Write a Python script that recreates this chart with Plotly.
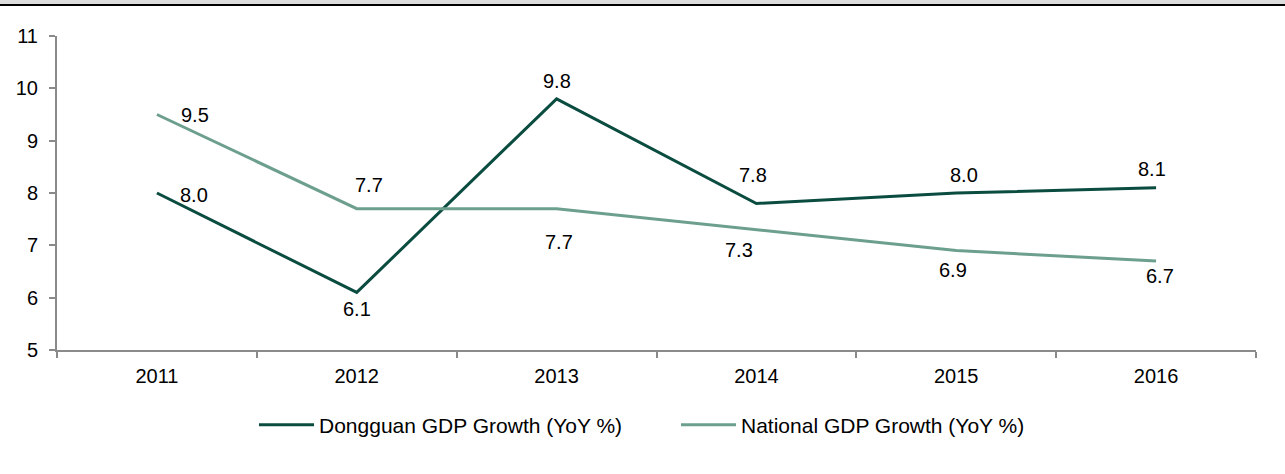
import plotly.graph_objects as go

years = ["2011", "2012", "2013", "2014", "2015", "2016"]
dongguan = [8.0, 6.1, 9.8, 7.8, 8.0, 8.1]
national = [9.5, 7.7, 7.7, 7.3, 6.9, 6.7]

# pixel offsets of each value label from its point
dongguan_dx = [37, 0, 0, -3, 8, -4]
dongguan_dy = [-2, -17, 18, 28, 18, 19]
national_dx = [38, 12, 2, -17, -3, 4]
national_dy = [0, 24, -33, -20, -19, -15]

DARK = "#0b4c40"
LIGHT = "#6d9f8e"
AXIS = "#8a8a8a"
FONT = "Liberation Sans, Arial, sans-serif"

fig = go.Figure()
fig.add_trace(go.Scatter(x=years, y=dongguan, mode="lines", name="Dongguan GDP Growth (YoY %)",
                         line=dict(color=DARK, width=3)))
fig.add_trace(go.Scatter(x=years, y=national, mode="lines", name="National GDP Growth (YoY %)",
                         line=dict(color=LIGHT, width=3)))

# value labels, placed at each category's index on the category axis
annotations = []
for vals, dxs, dys in ((dongguan, dongguan_dx, dongguan_dy), (national, national_dx, national_dy)):
    for i, (v, dx, dy) in enumerate(zip(vals, dxs, dys)):
        annotations.append(dict(x=i, y=v, xref="x", yref="y", text=f"{v:.1f}", showarrow=False,
                                xshift=dx, yshift=dy, font=dict(size=20, color="#000000", family=FONT)))

# header band across the top of the page
fig.add_shape(type="rect", xref="paper", yref="paper",
              x0=-0.06, x1=1.03, y0=(350 - 4) / 314, y1=(350 + 2) / 314,
              fillcolor="#dcdcdc", line=dict(width=0), layer="below")
fig.add_shape(type="rect", xref="paper", yref="paper",
              x0=-0.06, x1=1.03, y0=(350 - 6) / 314, y1=(350 - 4) / 314,
              fillcolor="#000000", line=dict(width=0), layer="below")

fig.update_layout(
    width=1285, height=474,
    margin=dict(l=57, r=29, t=36, b=124),
    paper_bgcolor="white", plot_bgcolor="white",
    font=dict(family=FONT, size=20, color="#000000"),
    annotations=annotations,
    showlegend=True,
    legend=dict(orientation="h", x=(254 - 57) / 1199, xanchor="left", y=-0.239, yanchor="middle",
                font=dict(size=21, family=FONT), entrywidth=352, itemwidth=55, traceorder="normal"),
    xaxis=dict(type="category", showgrid=False, showline=True, linecolor=AXIS, linewidth=2,
               ticks="outside", tickson="boundaries", ticklen=6, tickcolor=AXIS, tickwidth=1.5,
               tickfont=dict(size=20), range=[-0.5, 5.5], ticklabelstandoff=7),
    yaxis=dict(range=[5, 11], dtick=1, showgrid=False, showline=True, linecolor=AXIS, linewidth=2,
               ticks="outside", ticklen=6, tickcolor=AXIS, tickwidth=1.5, zeroline=False,
               tickfont=dict(size=20), ticklabelstandoff=7),
)

fig.write_html("out.html")
